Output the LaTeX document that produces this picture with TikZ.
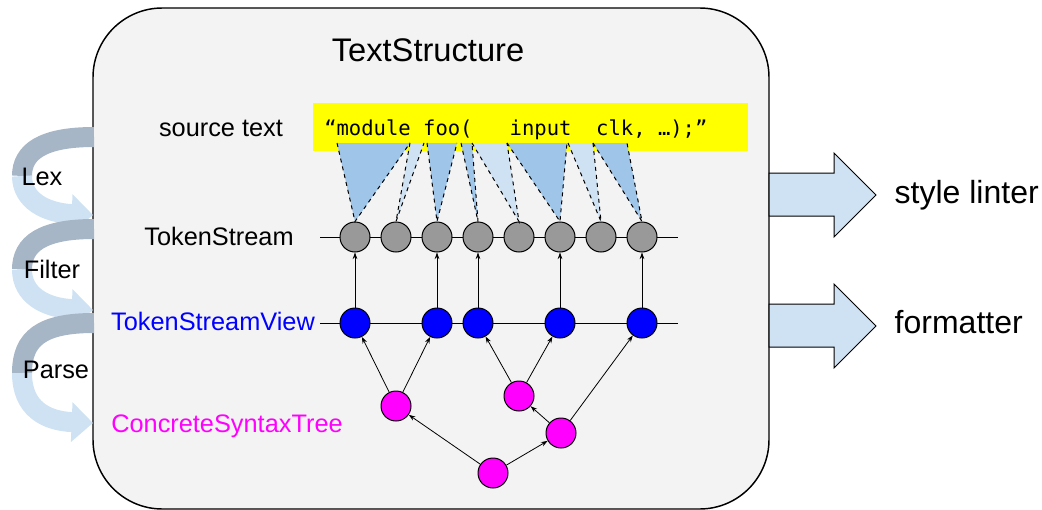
\documentclass[tikz,border=0pt]{standalone}
\usepackage{fontspec}
\setmainfont{Liberation Sans}
\newfontfamily\codefont{DejaVu Sans Mono}
\usetikzlibrary{arrows.meta}
\definecolor{boxgray}{HTML}{F3F3F3}
\definecolor{tokgray}{HTML}{999999}
\definecolor{darkblue}{HTML}{9FC5E8}
\definecolor{lightblue}{HTML}{CFE2F3}
\definecolor{backblue}{HTML}{A7B6C6}
\definecolor{srcyellow}{HTML}{FFFF00}
\definecolor{viewblue}{HTML}{0000FF}
\definecolor{cstpink}{HTML}{FF00FF}
\tikzset{
  tok/.style={circle, draw, line width=0.75pt, fill=tokgray, minimum size=22.5pt, inner sep=0pt},
  view/.style={tok, fill=viewblue},
  cst/.style={tok, fill=cstpink},
  lbl/.style={anchor=base, font=\fontsize{19}{22}\selectfont},
  big/.style={anchor=base west, font=\fontsize{24}{28}\selectfont},
  up/.style={-{Stealth[length=5pt,width=3.5pt]}, line width=0.6pt},
  bigarrow/.style={draw, line width=0.75pt, fill=lightblue}
}
\begin{document}
\begin{tikzpicture}[x=0.75pt,y=-0.75pt]
\useasboundingbox (0,0) rectangle (1042,510);
%%%%% outer box
\draw[fill=boxgray, line width=1.1pt, rounded corners=52pt] (93,8) rectangle (769,509);
\node[anchor=base, font=\fontsize{24.5}{28}\selectfont] (title) at (428,62) {TextStructure};

%%%%% pipeline arrows on the left
\foreach \t/\b in {137/215, 229/310, 323/423}{
  \draw[backblue, line width=15pt] (94,\t) .. controls (42,\t) and (22,\t+15) .. (22,{(\t+\b)/2});
  \draw[lightblue, line width=15pt, -{Triangle[length=16pt,width=29pt]}]
    (22,{(\t+\b)/2}) .. controls (22,\b-15) and (45,\b-2) .. (93,\b);
}
\node[lbl] (lex) at (42,185) {Lex};
\node[lbl] (filter) at (52,278) {Filter};
\node[lbl] (parse) at (56,378) {Parse};

%%%%% source text
\fill[srcyellow] (313,103) rectangle (748,151);
\node[lbl] (srclbl) at (221,137) {source text};

%%%%% token stream
\coordinate (tsl) at (320,237);
\coordinate (tsr) at (678,237);
\draw[line width=0.75pt] (tsl) -- (tsr);
\foreach \n/\x in {1/355, 2/396, 3/437, 4/478, 5/519, 6/560, 7/601, 8/642}
  \node[tok] (t\n) at (\x,237) {};
\node[lbl] (tslbl) at (219,245) {TokenStream};

% token spans
\foreach \a/\b/\n/\c in {337/410/1/darkblue, 410/424/2/lightblue, 427/457/3/darkblue, 461/472/4/darkblue,
                         472/507/5/lightblue, 507/567/6/darkblue, 568/593/7/lightblue, 593/627/8/darkblue}{
  \fill[\c] (\a,143) -- (t\n.north) -- (\b,143) -- cycle;
  \draw[dashed, line width=0.75pt] (\a,143) -- (t\n.north) -- (\b,143);
}
\node[anchor=base west, inner sep=0pt, font=\codefont\fontsize{15.4}{18}\selectfont] (src) at (324,135)
  {“module foo(~~~input~~clk, …);”};

%%%%% token stream view
\coordinate (tvl) at (320,323);
\coordinate (tvr) at (678,323);
\draw[line width=0.75pt] (tvl) -- (tvr);
\foreach \n/\m/\x in {1/1/355, 2/3/437, 3/4/478, 4/6/560, 5/8/642}{
  \node[view] (v\n) at (\x,323) {};
  \draw[up] (v\n) -- (t\m);
}
\node[lbl, text=viewblue] (tvlbl) at (213,330) {TokenStreamView};

%%%%% syntax tree
\node[cst] (c1) at (396,406) {};
\node[cst] (c2) at (519,396) {};
\node[cst] (c3) at (561,433) {};
\node[cst] (c4) at (493,473) {};
\draw[up] (c1) -- (v1);
\draw[up] (c1) -- (v2);
\draw[up] (c2) -- (v3);
\draw[up] (c2) -- (v4);
\draw[up] (c3) -- (c2);
\draw[up] (c3) -- (v5);
\draw[up] (c4) -- (c1);
\draw[up] (c4) -- (c3);
\node[lbl, text=cstpink] (cstlbl) at (227,432) {ConcreteSyntaxTree};

%%%%% consumers
\draw[bigarrow] (769,173) -- (834,173) -- (834,153) -- (876,195) -- (834,237) -- (834,216) -- (769,216) -- cycle;
\draw[bigarrow] (769,304) -- (834,304) -- (834,284) -- (876,326) -- (834,368) -- (834,347) -- (769,347) -- cycle;
\node[big] (lint) at (890,203) {style linter};
\node[big] (fmt) at (890,333) {formatter};
\end{tikzpicture}
\end{document}
